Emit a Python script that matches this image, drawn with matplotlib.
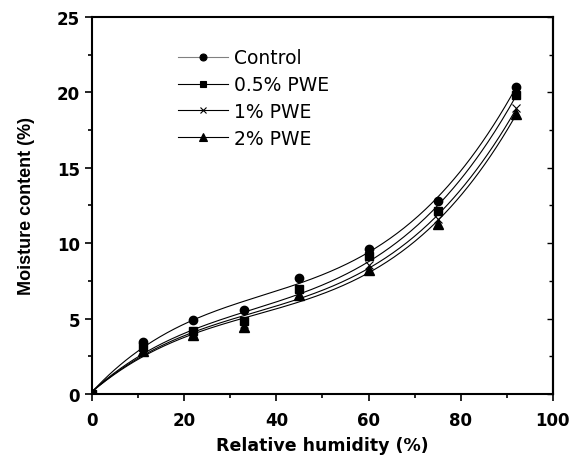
import numpy as np
import matplotlib
matplotlib.use("Agg")
import matplotlib.pyplot as plt
from matplotlib.lines import Line2D
from matplotlib.ticker import MultipleLocator, NullFormatter

rh = [0, 11, 22, 33, 45, 60, 75, 92]
control = [0, 3.43, 4.88, 5.59, 7.69, 9.60, 12.81, 20.39]
pwe05 = [0, 3.10, 4.21, 4.81, 6.94, 9.13, 12.15, 19.84]
pwe1 = [0, 2.95, 4.03, 4.65, 6.65, 8.58, 11.60, 18.95]
pwe2 = [0, 2.88, 3.92, 4.43, 6.54, 8.20, 11.26, 18.57]

series = [
    ("Control", control, "o", 6, "black"),
    ("0.5% PWE", pwe05, "s", 5.5, "black"),
    ("1% PWE", pwe1, "x", 6, "black"),
    ("2% PWE", pwe2, "^", 6.5, "black"),
]

plt.rcParams['font.family'] = ['DejaVu Sans']
fig = plt.figure(figsize=(5.7, 4.6), dpi=100)
ax = fig.add_axes([0.1614, 0.1413, 0.8086, 0.8196])

xs = np.linspace(0, 92, 300)
for name, vals, mk, ms, col in series:
    coef = np.polyfit(rh, vals, 4)
    ax.plot(xs, np.polyval(coef, xs), color="black", lw=0.8)
    ax.plot(rh, vals, linestyle="none", marker=mk, markersize=ms,
            color="black", markeredgewidth=1.0 if mk != "x" else 0.8)

ax.set_xlim(0, 100)
ax.set_ylim(0, 25)
ax.xaxis.set_major_locator(MultipleLocator(20))
ax.xaxis.set_minor_locator(MultipleLocator(10))
ax.yaxis.set_major_locator(MultipleLocator(5))
ax.yaxis.set_minor_locator(MultipleLocator(2.5))
ax.tick_params(which="both", direction="out", width=1.2, right=False, top=False,
               labelsize=12)
ax.tick_params(which="major", length=5)
ax.tick_params(which="minor", length=3)
ax.tick_params(axis="x", which="major", pad=7)
for lab in ax.get_xticklabels() + ax.get_yticklabels():
    lab.set_fontweight("bold")
for s in ax.spines.values():
    s.set_linewidth(1.5)

sec = ax.secondary_yaxis("right")
sec.yaxis.set_major_locator(MultipleLocator(5))
sec.yaxis.set_minor_locator(MultipleLocator(2.5))
sec.yaxis.set_major_formatter(NullFormatter())
sec.tick_params(which="both", direction="in", width=1.0)
sec.tick_params(which="major", length=4)
sec.tick_params(which="minor", length=3)
sec.spines["right"].set_linewidth(1.5)

ax.set_xlabel("Relative humidity (%)", fontsize=12.5, fontweight="bold", labelpad=5)
ax.set_ylabel("Moisture content (%)", fontsize=13, fontweight="bold", labelpad=16,
              family="Liberation Sans")

handles = []
for name, vals, mk, ms, col in series:
    lc = "gray" if name == "Control" else "black"
    handles.append(Line2D([0], [0], color=lc, lw=0.8, marker=mk, markersize=ms - 1,
                          markerfacecolor="black", markeredgecolor="black",
                          markeredgewidth=0.8))
ax.legend(handles, [s[0] for s in series], loc="upper left",
          bbox_to_anchor=(0.1505, 0.962), frameon=False, fontsize=13.5,
          handlelength=2.67, handletextpad=0.32, labelspacing=0.42)

fig.savefig("out.png", dpi=100)
